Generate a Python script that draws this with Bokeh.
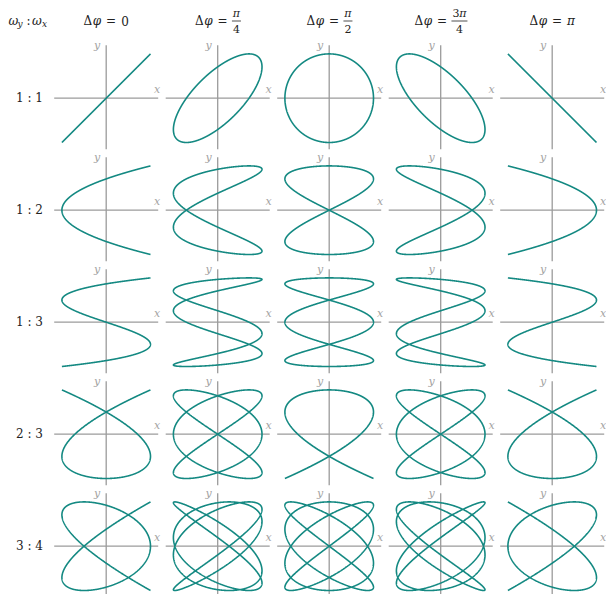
import numpy as np
from bokeh.plotting import figure
from bokeh.models import Range1d, Label
from bokeh.core.properties import value
from bokeh.embed import file_html
from bokeh.resources import INLINE

# Frequency ratios (omega_y : omega_x), one per row
omega_y = [1, 1, 1, 2, 3]
omega_x = [1, 2, 3, 3, 4]
ratio_labels = ["1 : 1", "1 : 2", "1 : 3", "2 : 3", "3 : 4"]

# Phase shifts, one per column
phases = [0.0, np.pi / 4, np.pi / 2, 3 * np.pi / 4, np.pi]
phase_coef = ["0", "", "", "3", ""]          # factor in front of pi
phase_pi = [False, True, True, True, True]   # whether pi appears
phase_den = [None, "4", "2", "4", None]      # denominator when shown as a fraction

CURVE = "#148982"
AXIS = "#9b9b9b"
LABEL = "#a3a3a3"
INK = "#222222"
SERIF = "DejaVu Serif"

# scale: pixels per unit amplitude, and cell pitch
U = 44.3
W, H = 606, 594
X0 = -105.7 / U
Y1 = 97.7 / U
SX = 111.5 / U
SY = 112.0 / U


def px(x):
    return X0 + x / U


def py(y):
    return Y1 - y / U


def label(x, y, s, size, style="normal", color=INK):
    p.add_layout(Label(x=x, y=y, text=s, text_font=SERIF, text_font_style=style,
                       text_font_size=size, text_color=color,
                       text_align="center", text_baseline="middle"))


p = figure(width=W, height=H, output_backend="svg", toolbar_location=None,
           x_range=Range1d(X0, X0 + W / U), y_range=Range1d(Y1 - H / U, Y1),
           min_border=0)
p.axis.visible = False
p.grid.visible = False
p.outline_line_color = None
p.background_fill_color = "white"
p.border_fill_color = "white"

t = np.linspace(0, 2 * np.pi, 2400)
AX_H = 52 / U
AX_TOP = 53 / U
AX_BOT = 51 / U

for r, (wy, wx) in enumerate(zip(omega_y, omega_x)):
    cy = -r * SY
    for c, phi in enumerate(phases):
        cx = c * SX
        # coordinate cross
        p.segment(x0=[cx - AX_H, cx], y0=[cy, cy - AX_BOT],
                  x1=[cx + AX_H, cx], y1=[cy, cy + AX_TOP],
                  line_color=AXIS, line_width=1.3)
        p.text(x=[cx + 51 / U, cx - 9 / U], y=[cy + 9 / U, cy + 53 / U], text=["x", "y"],
               text_font=value(SERIF), text_font_style="italic",
               text_font_size=value("11px"), text_color=LABEL,
               text_align="center", text_baseline="middle")
        # Lissajous curve
        xs = cx + np.cos(wx * t + phi)
        ys = cy + np.cos(wy * t)
        p.line(xs, ys, line_color=CURVE, line_width=1.6)

# row labels
for r, lab in enumerate(ratio_labels):
    label(px(29), -r * SY, lab, "12px")

# corner label  omega_y : omega_x
HY = py(20)
label(px(13), HY, "ω", "12px", "italic")
label(px(36.5), HY, "ω", "12px", "italic")
label(px(19.5), py(23), "y", "9px", "italic")
label(px(44), py(23), "x", "9px", "italic")
label(px(28), HY, ":", "12px")


def value_label(xc, y, coef, has_pi, size):
    # coefficient upright, pi in math italic
    if coef and has_pi:
        label(xc - 3.5 / U, y, coef, size)
        label(xc + 3.5 / U, y, "π", size, "italic")
    elif has_pi:
        label(xc, y, "π", size, "italic")
    else:
        label(xc, y, coef, size)


# column headers  Δφ = value
for c in range(5):
    coef, has_pi, den = phase_coef[c], phase_pi[c], phase_den[c]
    vw = 15 if (coef and has_pi) else 8
    left = c * SX - (37.5 + vw) / 2 / U
    label(left + 4.5 / U, HY, "Δ", "12px")
    label(left + 13.5 / U, HY, "φ", "12px", "italic")
    label(left + 27.5 / U, HY, "=", "12px")
    vc = left + (37.5 + vw / 2) / U
    if den is None:
        value_label(vc, HY, coef, has_pi, "12px")
    else:
        value_label(vc, py(12.5), coef, has_pi, "11px")
        label(vc, py(28.5), den, "11px")
        p.segment(x0=[vc - (vw / 2 + 0.5) / U], x1=[vc + (vw / 2 + 0.5) / U],
                  y0=[py(20.5)], y1=[py(20.5)], line_color=INK, line_width=0.8)

open("out.html", "w").write(file_html(p, INLINE))
